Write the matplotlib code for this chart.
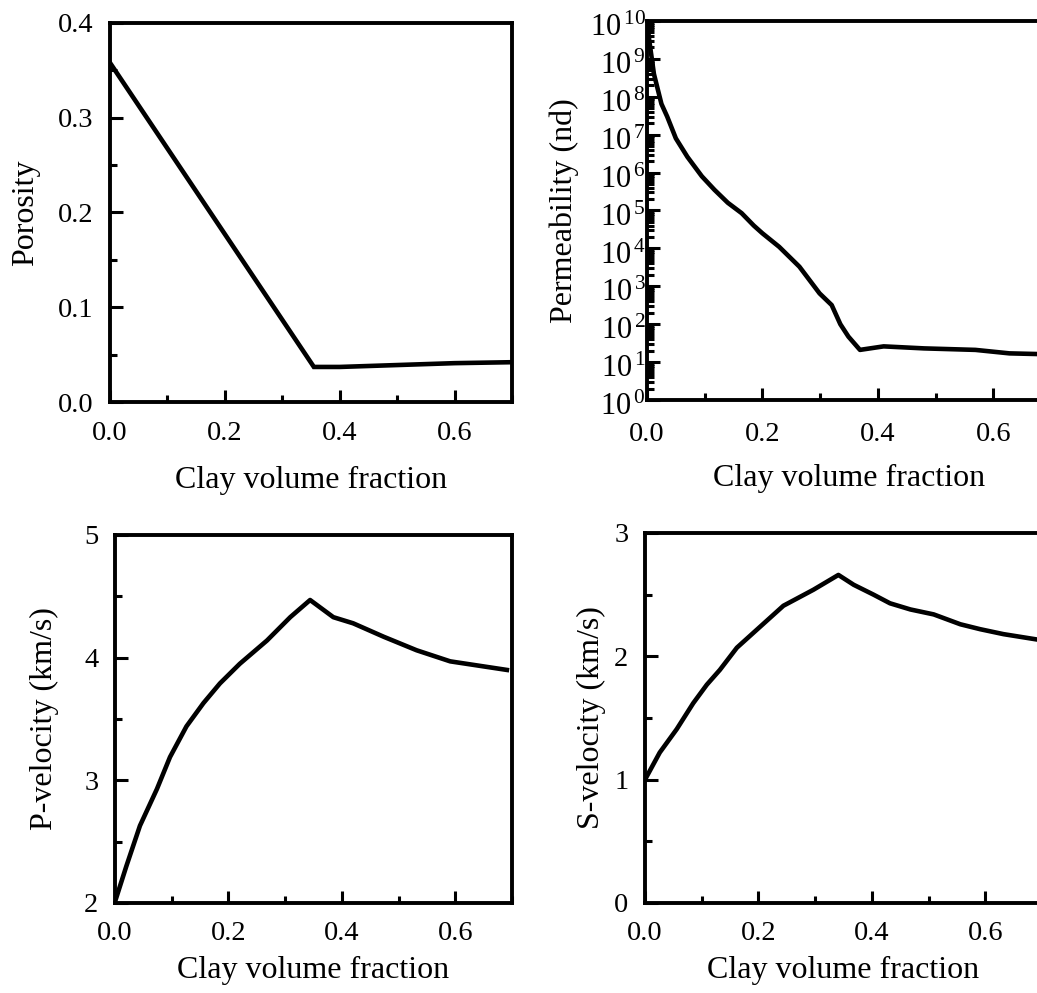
import matplotlib
matplotlib.use("Agg")
import matplotlib.pyplot as plt
from matplotlib.ticker import MultipleLocator, LogLocator, NullFormatter, FixedLocator
import matplotlib.transforms as mtransforms
import numpy as np

plt.rcParams['font.family'] = ['Liberation Serif', 'DejaVu Serif']
plt.rcParams['mathtext.fontset'] = 'custom'
plt.rcParams['mathtext.rm'] = 'Liberation Serif'
plt.rcParams['mathtext.it'] = 'Liberation Serif:italic'

# ---- data ----
phi_clay = [0.0, 0.355, 0.40, 0.50, 0.60, 0.70]
porosity = [0.358, 0.037, 0.037, 0.039, 0.041, 0.042]

k_clay = [0.0, 0.004, 0.012, 0.025, 0.035, 0.05, 0.07, 0.095, 0.117, 0.14, 0.164, 0.185,
          0.2, 0.229, 0.264, 0.299, 0.32, 0.335, 0.349, 0.369, 0.41, 0.48, 0.569, 0.628, 0.70]
permeability = [1.0e10, 3e9, 4e8, 6.5e7, 3e7, 8e6, 2.6e6, 8e5, 3.5e5, 1.6e5, 8.5e4, 4e4,
                2.5e4, 1.1e4, 3.3e3, 6.5e2, 3.2e2, 1.0e2, 4.7e1, 2.1e1, 2.6e1, 2.3e1, 2.1e1, 1.7e1, 1.6e1]

vp_clay = [0.0, 0.02, 0.044, 0.074, 0.097, 0.126, 0.156, 0.185, 0.22, 0.268, 0.309, 0.344,
           0.385, 0.42, 0.474, 0.532, 0.591, 0.691]
vp = [2.01, 2.30, 2.63, 2.93, 3.19, 3.44, 3.63, 3.79, 3.95, 4.14, 4.33, 4.47,
      4.33, 4.28, 4.17, 4.06, 3.97, 3.90]

vs_clay = [0.0, 0.026, 0.056, 0.085, 0.109, 0.132, 0.162, 0.203, 0.244, 0.297, 0.341,
           0.368, 0.403, 0.432, 0.468, 0.509, 0.556, 0.591, 0.632, 0.70]
vs = [1.0, 1.22, 1.41, 1.62, 1.77, 1.89, 2.07, 2.24, 2.41, 2.54, 2.66,
      2.58, 2.50, 2.43, 2.38, 2.34, 2.26, 2.22, 2.18, 2.13]

xticks = [0.0, 0.2, 0.4, 0.6]
xticklabels = ["0.0", "0.2", "0.4", "0.6"]
xlabel = "Clay volume fraction"

W, H = 1037, 993
fig = plt.figure(figsize=(W / 100, H / 100), dpi=100)

def rect(l, r, t, b):
    return [l / W, 1 - b / H, (r - l) / W, (b - t) / H]

ax1 = fig.add_axes(rect(110, 512, 23, 402))
ax2 = fig.add_axes(rect(647, 1051, 21, 400))
ax3 = fig.add_axes(rect(115, 512, 535, 903))
ax4 = fig.add_axes(rect(645, 1042, 533, 903))

TICK_FS = 20.5
LABEL_FS = 23
LW = 3.3

def style(ax, xpad, lpad):
    for s in ax.spines.values():
        s.set_linewidth(2.8)
    ax.set_xlim(0, 0.7)
    ax.xaxis.set_major_locator(FixedLocator(xticks))
    ax.set_xticklabels(xticklabels)
    ax.xaxis.set_minor_locator(MultipleLocator(0.1))
    ax.tick_params(which='both', direction='in', top=False, right=False, width=2.2, labelsize=TICK_FS)
    ax.tick_params(which='major', length=9)
    ax.tick_params(which='minor', length=5)
    ax.tick_params(axis='x', which='major', pad=xpad)
    ax.set_xlabel(xlabel, fontsize=LABEL_FS, labelpad=lpad)

# Porosity
ax1.plot(phi_clay, porosity, color='black', lw=LW, solid_joinstyle='miter')
style(ax1, 14, 14)
ax1.set_ylim(0, 0.4)
ax1.yaxis.set_major_locator(MultipleLocator(0.1))
ax1.yaxis.set_minor_locator(MultipleLocator(0.05))
ax1.yaxis.set_major_formatter(plt.FuncFormatter(lambda v, p: f"{v:.1f}"))
ax1.tick_params(axis='y', pad=12)
ax1.set_ylabel("Porosity", fontsize=LABEL_FS, labelpad=13)

# Permeability
ax2.plot(k_clay, permeability, color='black', lw=LW)
style(ax2, 16, 12)
ax2.set_yscale('log')
ax2.set_ylim(1, 1e10)
ax2.yaxis.set_major_locator(LogLocator(base=10, numticks=20))
ax2.yaxis.set_minor_locator(LogLocator(base=10, subs=np.arange(2, 10), numticks=20))
ax2.yaxis.set_minor_formatter(NullFormatter())
ax2.yaxis.set_major_formatter(plt.FuncFormatter(lambda v, p: r"$\mathregular{10^{\,%d}}$" % int(round(np.log10(v)))))
ax2.tick_params(axis='y', which='major', pad=1, labelsize=22)
ax2.set_ylabel("Permeability (nd)", fontsize=LABEL_FS, labelpad=8)

# P-velocity
ax3.plot(vp_clay, vp, color='black', lw=LW)
style(ax3, 13, 7)
ax3.set_ylim(2, 5)
ax3.yaxis.set_major_locator(MultipleLocator(1))
ax3.yaxis.set_minor_locator(MultipleLocator(0.5))
ax3.tick_params(axis='y', pad=12)
ax3.set_ylabel("P-velocity (km/s)", fontsize=LABEL_FS, labelpad=18)

# S-velocity
ax4.plot(vs_clay, vs, color='black', lw=LW)
style(ax4, 13, 7)
ax4.set_ylim(0, 3)
ax4.yaxis.set_major_locator(MultipleLocator(1))
ax4.yaxis.set_minor_locator(MultipleLocator(0.5))
ax4.tick_params(axis='y', pad=12)
ax4.set_ylabel("S-velocity (km/s)", fontsize=LABEL_FS, labelpad=6)

fig.canvas.draw()
shift = mtransforms.ScaledTranslation(0, -4 / 100, fig.dpi_scale_trans)
for lab in ax2.get_yticklabels():
    lab.set_transform(lab.get_transform() + shift)

fig.savefig("out.png", dpi=100)
